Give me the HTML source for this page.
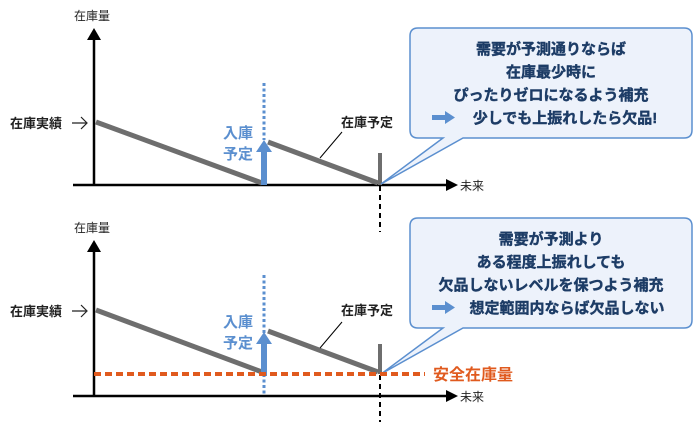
<!DOCTYPE html>
<html><head><meta charset="utf-8"><style>
body{margin:0;background:#fff;}
text{font-family:"Liberation Sans","Noto Sans CJK JP",sans-serif;}
</style></head><body>
<svg width="700" height="430" viewBox="0 0 700 430" xmlns="http://www.w3.org/2000/svg">
<!-- TOP PANEL -->
<line x1="94" y1="185" x2="94" y2="40" stroke="#000" stroke-width="2.5"/>
<polygon points="87,40 101,40 94,28" fill="#000"/>
<line x1="73" y1="185" x2="448" y2="185" stroke="#000" stroke-width="2.5"/>
<polygon points="446,179 446,191 458,185" fill="#000"/>
<text x="460" y="190" font-size="12" fill="#222">未来</text>
<text x="74" y="20" font-size="12" fill="#222">在庫量</text>
<text x="10" y="128" font-size="13" font-weight="bold" fill="#222">在庫実績</text>
<path d="M72,123 H86 M81,117 L87,123 L81,129" stroke="#222" stroke-width="1.2" fill="none"/>
<line x1="380" y1="186" x2="380" y2="232" stroke="#000" stroke-width="2" stroke-dasharray="5,4"/>
<line x1="96" y1="122" x2="262" y2="183" stroke="#6e6e6e" stroke-width="5"/>
<line x1="268" y1="142" x2="378" y2="183" stroke="#6e6e6e" stroke-width="5"/>
<line x1="380" y1="153" x2="380" y2="185" stroke="#6e6e6e" stroke-width="4"/>
<line x1="320" y1="158" x2="342" y2="132" stroke="#000" stroke-width="1"/>
<text x="341" y="127" font-size="13" font-weight="bold" fill="#222">在庫予定</text>
<line x1="264" y1="83" x2="264" y2="140" stroke="#5b8fcf" stroke-width="3" stroke-dasharray="3,2.5"/>
<line x1="264" y1="185" x2="264" y2="150" stroke="#5b8fcf" stroke-width="6"/>
<polygon points="256,152 272,152 264,140" fill="#5b8fcf"/>
<text x="238" y="138" font-size="15" font-weight="bold" fill="#5b8fcf" text-anchor="middle">入庫</text>
<text x="238" y="159" font-size="15" font-weight="bold" fill="#5b8fcf" text-anchor="middle">予定</text>
<path d="M418,28 H684 Q692,28 692,36 V130 Q692,138 684,138 H463 L381,184 L443,138 H418 Q410,138 410,130 V36 Q410,28 418,28 Z" fill="#edf2fb" stroke="#5b8fcf" stroke-width="1.5"/>

<!-- BOTTOM PANEL -->
<line x1="94" y1="396" x2="94" y2="252" stroke="#000" stroke-width="2.5"/>
<polygon points="87,252 101,252 94,240" fill="#000"/>
<line x1="73" y1="396" x2="448" y2="396" stroke="#000" stroke-width="2.5"/>
<polygon points="446,390 446,402 458,396" fill="#000"/>
<text x="460" y="401" font-size="12" fill="#222">未来</text>
<text x="74" y="232" font-size="12" fill="#222">在庫量</text>
<text x="10" y="316" font-size="13" font-weight="bold" fill="#222">在庫実績</text>
<path d="M72,311 H86 M81,305 L87,311 L81,317" stroke="#222" stroke-width="1.2" fill="none"/>
<line x1="380" y1="375" x2="380" y2="422" stroke="#000" stroke-width="2" stroke-dasharray="5,4"/>
<line x1="96" y1="310" x2="262" y2="372" stroke="#6e6e6e" stroke-width="5"/>
<line x1="268" y1="331" x2="378" y2="372" stroke="#6e6e6e" stroke-width="5"/>
<line x1="380" y1="344" x2="380" y2="374" stroke="#6e6e6e" stroke-width="4"/>
<line x1="320" y1="348" x2="342" y2="322" stroke="#000" stroke-width="1"/>
<text x="341" y="315" font-size="13" font-weight="bold" fill="#222">在庫予定</text>
<line x1="264" y1="275" x2="264" y2="396" stroke="#5b8fcf" stroke-width="3" stroke-dasharray="3,2.5"/>
<line x1="264" y1="376" x2="264" y2="342" stroke="#5b8fcf" stroke-width="6"/>
<polygon points="256,344 272,344 264,332" fill="#5b8fcf"/>
<text x="238" y="327" font-size="15" font-weight="bold" fill="#5b8fcf" text-anchor="middle">入庫</text>
<text x="238" y="348" font-size="15" font-weight="bold" fill="#5b8fcf" text-anchor="middle">予定</text>
<path d="M418,218 H684 Q692,218 692,226 V320 Q692,328 684,328 H463 L381,374 L443,328 H418 Q410,328 410,320 V226 Q410,218 418,218 Z" fill="#edf2fb" stroke="#5b8fcf" stroke-width="1.5"/>
<line x1="94" y1="374" x2="425" y2="374" stroke="#e05a1e" stroke-width="4" stroke-dasharray="7,4"/>
<text x="433" y="380" font-size="16" font-weight="bold" fill="#e05a1e">安全在庫量</text>

<g font-size="15" font-weight="bold" fill="#1d3c66" text-anchor="middle" stroke="#1d3c66" stroke-width="0.4">
<text x="551" y="54">需要が予測通りならば</text>
<text x="551" y="77">在庫最少時に</text>
<text x="551" y="100">ぴったりゼロになるよう補充</text>
<text x="565" y="123">少しでも上振れしたら欠品!</text>
<text x="551" y="244">需要が予測より</text>
<text x="551" y="267">ある程度上振れしても</text>
<text x="551" y="290">欠品しないレベルを保つよう補充</text>
<text x="567" y="313">想定範囲内ならば欠品しない</text>
</g>
<g fill="#5b8fcf">
<rect x="432" y="115" width="14" height="5"/><polygon points="445,111 455,117.5 445,124"/>
<rect x="432" y="305" width="14" height="5"/><polygon points="445,301 455,307.5 445,314"/>
</g>
</svg>
</body></html>
